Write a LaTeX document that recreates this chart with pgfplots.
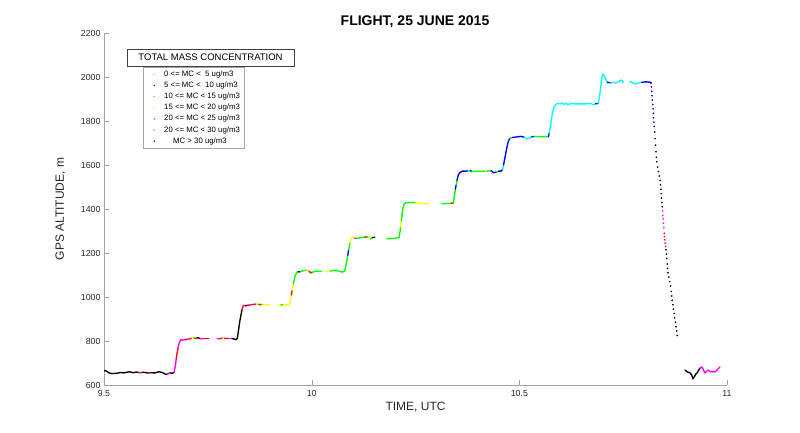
\documentclass[border=0pt]{standalone}
\usepackage{pgfplots}
\pgfplotsset{compat=1.18}
\usepackage{fontspec}
\setmainfont{Liberation Sans}
\definecolor{mcA}{rgb}{0,1,1}
\definecolor{mcB}{rgb}{0,0,1}
\definecolor{mcC}{rgb}{0,1,0}
\definecolor{mcD}{rgb}{1,1,0}
\definecolor{mcE}{rgb}{1,0,0}
\definecolor{mcF}{rgb}{1,0,1}
\definecolor{mcG}{rgb}{0,0,0}
\pgfplotsset{
  seg/.style={line width=1.35pt, line cap=round, line join=round, forget plot, mark=none},
  cA/.style={seg, color=mcA}, cB/.style={seg, color=mcB}, cC/.style={seg, color=mcC},
  cD/.style={seg, color=mcD}, cE/.style={seg, color=mcE}, cF/.style={seg, color=mcF},
  cG/.style={seg, color=mcG},
  dot/.style={only marks, mark=*, mark size=0.6pt, forget plot},
  lg/.style={only marks, mark=*, mark size=0.7pt, color=#1,
    legend image code/.code={\path[draw=none,fill=none] (0pt,-2pt) rectangle (17pt,2pt); \fill[##1, draw=none] (9pt,0pt) circle (0.75pt);}},
}
\begin{document}
\begin{tikzpicture}[x=1pt,y=1pt]
\useasboundingbox (0,0) rectangle (800,432);
\begin{axis}[
  at={(104pt,47pt)}, anchor=south west,
  scale only axis, width=623pt, height=352pt,
  xmin=9.5, xmax=11, ymin=600, ymax=2200,
  xtick={9.5,10,10.5,11}, ytick={600,800,...,2200},
  xticklabels={9.5,10,10.5,11},
  axis x line*=bottom, axis y line*=left,
  axis line style={black!35, -},
  tick style={black!35, major tick length=5pt},
  tick align=inside,
  /pgf/number format/assume math mode=true,
  ticklabel style={font=\fontsize{8.8}{10}\selectfont, text=black!85},
  xticklabel style={yshift=-2pt},
  yticklabel style={/pgf/number format/.cd, 1000 sep={}},
  title={\textbf{FLIGHT, 25 JUNE 2015}},
  title style={font=\fontsize{14}{16}\selectfont, at={(axis description cs:0.4992,1.014)}, anchor=center},
  xlabel={TIME, UTC},
  ylabel={GPS ALTITUDE, m},
  xlabel style={font=\fontsize{12}{14}\selectfont, text=black!85, at={(axis description cs:0.5,-0.0625)}, anchor=center},
  ylabel style={font=\fontsize{12}{14}\selectfont, text=black!85, at={(axis description cs:-0.0700,0.5)}, anchor=center},
  legend style={at={(rel axis cs:0.0626,0.9034)}, anchor=north west, draw=black!35,
    font=\fontsize{7.8}{9}\selectfont, inner xsep=2pt, inner ysep=1.5pt, row sep=0pt,
    legend cell align=left},
]
% legend entries
\addlegendimage{lg=mcA}
\addlegendentry{0 <= MC <\ \ 5 ug/m3}
\addlegendimage{lg=mcB}
\addlegendentry{5 <= MC <\ \ 10 ug/m3}
\addlegendimage{lg=mcC}
\addlegendentry{10 <= MC < 15 ug/m3}
\addlegendimage{lg=mcD}
\addlegendentry{15 <= MC < 20 ug/m3}
\addlegendimage{lg=mcE}
\addlegendentry{20 <= MC < 25 ug/m3}
\addlegendimage{lg=mcF}
\addlegendentry{20 <= MC < 30 ug/m3}
\addlegendimage{lg=mcG}
\addlegendentry{\hspace{9pt}MC > 30 ug/m3}

% ground
\addplot[cG] coordinates {(9.500,664)(9.503,666)(9.507,662)(9.512,655)(9.520,652)(9.530,653)(9.540,657)(9.548,655)(9.555,658)(9.562,660)(9.570,656)(9.578,659)(9.586,656)(9.595,658)(9.603,655)(9.612,656)(9.622,655)(9.632,660)(9.640,657)(9.645,652)(9.650,648)(9.655,652)(9.660,655)(9.665,653)(9.669,658)};
\addplot[cF] coordinates {(9.584,657)(9.590,657)};
\addplot[cF] coordinates {(9.652,650)(9.658,654)};
\addplot[cE] coordinates {(9.605,655)(9.610,656)};
% climb 1
\addplot[cF] coordinates {(9.669,658)(9.672,690)(9.674,720)};
\addplot[cE] coordinates {(9.674,720)(9.676,745)(9.678,765)};
\addplot[cF] coordinates {(9.678,765)(9.681,790)(9.685,806)};
% plateau 1
\addplot[cF] coordinates {(9.685,806)(9.690,804)(9.695,806)};
\addplot[cE] coordinates {(9.695,806)(9.700,808)};
\addplot[cF] coordinates {(9.700,808)(9.706,810)};
\addplot[cE] coordinates {(9.706,810)(9.712,812)};
\addplot[cD] coordinates {(9.712,812)(9.716,814)};
\addplot[cC] coordinates {(9.716,814)(9.720,812)};
\addplot[cE] coordinates {(9.720,812)(9.725,815)};
\addplot[cG] coordinates {(9.725,815)(9.732,811)};
\addplot[cF] coordinates {(9.732,811)(9.742,810)};
\addplot[cE] coordinates {(9.742,810)(9.752,810)};
\addplot[cF] coordinates {(9.772,810)(9.780,811)};
\addplot[cE] coordinates {(9.780,811)(9.786,813)};
\addplot[cD] coordinates {(9.786,813)(9.790,812)};
\addplot[cE] coordinates {(9.790,812)(9.800,811)};
\addplot[cF] coordinates {(9.800,811)(9.808,811)};
\addplot[cG] coordinates {(9.808,811)(9.814,809)(9.818,806)(9.821,812)};
% climb 2
\addplot[cG] coordinates {(9.821,812)(9.824,850)(9.827,890)(9.830,920)(9.832,940)};
\addplot[cE] coordinates {(9.832,940)(9.834,955)(9.836,962)};
% plateau 2
\addplot[cF] coordinates {(9.836,962)(9.840,960)};
\addplot[cG] coordinates {(9.840,960)(9.845,962)};
\addplot[cE] coordinates {(9.845,962)(9.852,964)};
\addplot[cF] coordinates {(9.852,964)(9.858,966)};
\addplot[cE] coordinates {(9.858,966)(9.866,968)};
\addplot[cD] coordinates {(9.866,968)(9.872,967)};
\addplot[cE] coordinates {(9.872,967)(9.878,965)};
\addplot[cC] coordinates {(9.878,965)(9.882,966)};
\addplot[cD] coordinates {(9.882,966)(9.899,964)};
\addplot[cD] coordinates {(9.919,963)(9.926,964)};
\addplot[cC] coordinates {(9.926,964)(9.932,965)};
\addplot[cD] coordinates {(9.932,965)(9.946,963)};
% climb 3
\addplot[cD] coordinates {(9.946,963)(9.949,990)(9.951,1010)};
\addplot[cE] coordinates {(9.951,1010)(9.953,1030)};
\addplot[cD] coordinates {(9.953,1030)(9.956,1060)};
\addplot[cC] coordinates {(9.956,1060)(9.960,1095)(9.964,1112)};
% plateau 3
\addplot[cC] coordinates {(9.964,1112)(9.968,1115)};
\addplot[cG] coordinates {(9.968,1115)(9.972,1114)};
\addplot[cC] coordinates {(9.972,1114)(9.980,1120)(9.988,1122)};
\addplot[cD] coordinates {(9.988,1122)(9.993,1118)};
\addplot[cE] coordinates {(9.993,1118)(9.998,1110)(10.002,1112)};
\addplot[cC] coordinates {(10.002,1112)(10.010,1118)(10.024,1116)};
\addplot[cD] coordinates {(10.034,1115)(10.045,1118)};
\addplot[cC] coordinates {(10.045,1118)(10.055,1122)(10.065,1118)(10.074,1113)(10.080,1120)};
% climb 4
\addplot[cC] coordinates {(10.080,1120)(10.084,1160)(10.087,1190)};
\addplot[cB] coordinates {(10.087,1190)(10.089,1215)};
\addplot[cC] coordinates {(10.089,1215)(10.092,1245)};
\addplot[cD] coordinates {(10.092,1245)(10.095,1268)(10.098,1274)};
% plateau 4
\addplot[cD] coordinates {(10.098,1274)(10.103,1268)};
\addplot[cF] coordinates {(10.103,1268)(10.108,1266)};
\addplot[cC] coordinates {(10.108,1266)(10.118,1270)(10.128,1272)};
\addplot[cE] coordinates {(10.128,1272)(10.133,1274)};
\addplot[cC] coordinates {(10.133,1274)(10.138,1270)};
\addplot[cD] coordinates {(10.138,1270)(10.142,1264)};
\addplot[cC] coordinates {(10.142,1264)(10.146,1270)};
\addplot[cG] coordinates {(10.146,1270)(10.152,1272)};
\addplot[cC] coordinates {(10.181,1265)(10.195,1266)(10.210,1270)};
% climb 5
\addplot[cC] coordinates {(10.210,1270)(10.213,1300)(10.214,1320)};
\addplot[cD] coordinates {(10.214,1320)(10.216,1345)};
\addplot[cC] coordinates {(10.216,1345)(10.218,1380)(10.220,1405)(10.222,1420)};
% plateau 5
\addplot[cC] coordinates {(10.222,1420)(10.226,1428)(10.240,1430)(10.250,1428)};
\addplot[cD] coordinates {(10.250,1428)(10.260,1425)(10.282,1424)};
\addplot[cC] coordinates {(10.314,1424)(10.325,1425)(10.336,1426)};
\addplot[cE] coordinates {(10.336,1426)(10.341,1428)};
% climb 6
\addplot[cC] coordinates {(10.341,1428)(10.344,1460)(10.346,1490)};
\addplot[cB] coordinates {(10.346,1490)(10.348,1510)};
\addplot[cC] coordinates {(10.348,1510)(10.350,1530)};
\addplot[cB] coordinates {(10.350,1530)(10.353,1555)(10.357,1565)};
% plateau 6
\addplot[cB] coordinates {(10.357,1565)(10.362,1572)(10.370,1572)(10.376,1573)};
\addplot[cC] coordinates {(10.376,1573)(10.382,1575)};
\addplot[cB] coordinates {(10.382,1575)(10.386,1570)};
\addplot[cC] coordinates {(10.386,1570)(10.398,1572)(10.410,1571)(10.418,1573)};
\addplot[cD] coordinates {(10.418,1573)(10.422,1572)};
\addplot[cC] coordinates {(10.422,1572)(10.432,1574)};
\addplot[cB] coordinates {(10.432,1574)(10.438,1565)(10.445,1568)};
\addplot[cC] coordinates {(10.445,1568)(10.450,1572)};
\addplot[cB] coordinates {(10.450,1572)(10.456,1572)(10.460,1580)};
% climb 7
\addplot[cA] coordinates {(10.460,1580)(10.462,1600)};
\addplot[cB] coordinates {(10.462,1600)(10.466,1640)(10.470,1680)(10.474,1710)(10.478,1722)};
% plateau 7
\addplot[cC] coordinates {(10.478,1722)(10.484,1725)};
\addplot[cB] coordinates {(10.484,1725)(10.495,1728)(10.505,1730)(10.512,1726)};
\addplot[cA] coordinates {(10.512,1726)(10.518,1718)(10.524,1722)(10.530,1728)};
\addplot[cB] coordinates {(10.530,1728)(10.536,1730)};
\addplot[cC] coordinates {(10.536,1730)(10.550,1729)(10.570,1729)};
% climb 8
\addplot[cB] coordinates {(10.570,1729)(10.572,1745)};
\addplot[cA] coordinates {(10.572,1745)(10.576,1790)(10.580,1840)(10.584,1868)(10.588,1875)};
% plateau 8
\addplot[cA] coordinates {(10.588,1875)(10.592,1880)(10.597,1878)(10.602,1882)(10.607,1876)(10.612,1880)(10.618,1874)(10.624,1880)(10.632,1878)(10.645,1878)(10.660,1878)(10.672,1880)(10.678,1874)(10.684,1878)};
\addplot[cB] coordinates {(10.684,1878)(10.690,1880)};
% climb 9
\addplot[cA] coordinates {(10.690,1880)(10.692,1900)(10.695,1940)(10.698,1990)(10.701,2013)};
% plateau 9
\addplot[cA] coordinates {(10.701,2013)(10.704,2008)(10.708,1990)(10.712,1976)};
\addplot[cB] coordinates {(10.712,1976)(10.720,1973)};
\addplot[cA] coordinates {(10.720,1973)(10.726,1976)(10.731,1973)(10.737,1978)(10.743,1984)(10.747,1986)(10.750,1975)};
\addplot[cA] coordinates {(10.766,1980)(10.772,1975)(10.778,1968)(10.784,1972)(10.790,1974)(10.795,1976)};
\addplot[cB] coordinates {(10.795,1976)(10.805,1978)(10.817,1976)};
% descent
\addplot[dot, color=mcB] coordinates {(10.817,1972)(10.818,1955)(10.819,1935)(10.8195,1915)(10.820,1895)(10.821,1875)(10.822,1855)(10.8225,1835)(10.823,1815)(10.824,1795)(10.8415,1470)};
\addplot[dot, color=mcG] coordinates {(10.825,1775)(10.826,1750)(10.827,1720)(10.828,1690)(10.829,1660)(10.830,1635)(10.831,1615)(10.833,1590)(10.835,1570)(10.837,1550)(10.839,1530)(10.840,1510)(10.841,1490)(10.842,1450)(10.843,1430)(10.844,1410)(10.853,1215)(10.854,1195)(10.855,1175)(10.856,1150)(10.857,1130)(10.858,1110)(10.860,1090)(10.862,1070)(10.864,1050)(10.866,1025)(10.867,1005)(10.868,985)(10.870,965)(10.871,945)(10.873,925)(10.874,905)(10.876,885)(10.877,865)(10.879,845)(10.880,825)};
\addplot[dot, color=mcF] coordinates {(10.845,1390)(10.8455,1370)(10.846,1355)(10.847,1335)(10.848,1315)};
\addplot[dot, color=mcE] coordinates {(10.849,1290)(10.8495,1275)(10.850,1260)(10.851,1245)(10.852,1230)};
% final ground
\addplot[cG] coordinates {(10.899,668)(10.904,660)(10.911,655)(10.915,645)(10.918,628)(10.922,640)(10.925,650)(10.928,655)(10.932,668)(10.935,677)};
\addplot[cF] coordinates {(10.935,677)(10.940,682)(10.944,665)(10.947,655)(10.951,662)(10.954,668)(10.959,662)(10.964,659)(10.968,662)(10.971,659)(10.976,668)(10.983,682)};

\node[draw=black!75, fill=white, minimum width=167pt, minimum height=17pt, inner sep=0pt,
  font=\fontsize{9.5}{11}\selectfont] at (rel axis cs:0.171,0.9304) {TOTAL MASS CONCENTRATION};
\end{axis}
\end{tikzpicture}
\end{document}
